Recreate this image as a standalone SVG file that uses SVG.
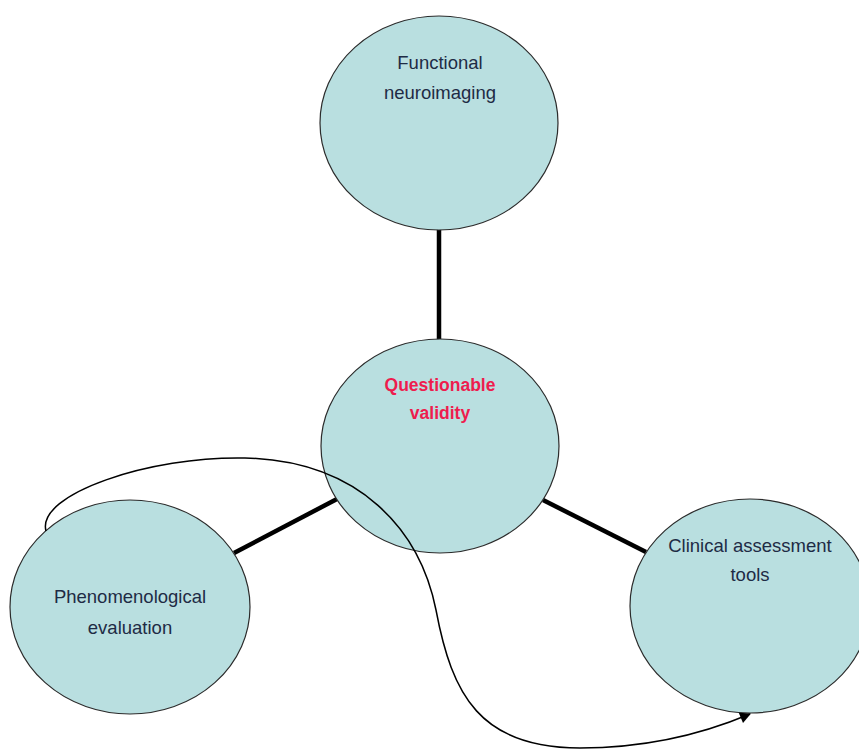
<svg xmlns="http://www.w3.org/2000/svg" width="859" height="752" viewBox="0 0 859 752">
  <style>
    .node { fill: #b9dfe0; stroke: #2b2b2b; stroke-width: 1.2; }
    .label { font-family: "Liberation Sans", Arial, sans-serif; font-size: 18.5px; fill: #1e2b45; text-anchor: middle; }
    .hot { font-family: "Liberation Sans", Arial, sans-serif; font-size: 17.5px; font-weight: bold; fill: #ee1c4e; text-anchor: middle; }
    .link { stroke: #000; stroke-width: 4.5; fill: none; }
    .flow { stroke: #000; stroke-width: 1.5; fill: none; }
  </style>
  <defs>
    <marker id="arrow" viewBox="0 0 10 10" refX="9" refY="5" markerWidth="12" markerHeight="11" orient="auto" markerUnits="userSpaceOnUse">
      <path d="M0,0 L10,5 L0,10 z" fill="#000"/>
    </marker>
  </defs>
  <rect width="859" height="752" fill="#fff"/>

  <!-- thick spokes between the hub and the three satellites -->
  <g id="connectors">
    <line class="link" x1="439" y1="228" x2="439" y2="341"/>
    <line class="link" x1="234" y1="553" x2="337" y2="499"/>
    <line class="link" x1="543" y1="500" x2="646" y2="552"/>
  </g>

  <g id="functional-neuroimaging">
    <ellipse class="node" cx="439" cy="123" rx="119" ry="107"/>
    <text class="label" x="440" y="69">Functional</text>
    <text class="label" x="440" y="99">neuroimaging</text>
  </g>

  <g id="questionable-validity">
    <ellipse class="node" cx="440" cy="446" rx="119" ry="107"/>
    <text class="hot" x="440" y="391">Questionable</text>
    <text class="hot" x="440" y="419">validity</text>
  </g>

  <g id="phenomenological-evaluation">
    <ellipse class="node" cx="130" cy="607" rx="120" ry="107"/>
    <text class="label" x="130" y="603">Phenomenological</text>
    <text class="label" x="130" y="634">evaluation</text>
  </g>

  <g id="clinical-assessment-tools">
    <ellipse class="node" cx="750" cy="606" rx="120" ry="107"/>
    <text class="label" x="750" y="552">Clinical assessment</text>
    <text class="label" x="750" y="581">tools</text>
  </g>

  <!-- looping arrow from phenomenological evaluation to clinical assessment tools -->
  <g id="flow">
    <path class="flow" marker-end="url(#arrow)" d="M46,531 C36,494 150,456 245,458 C360,461 420,530 436,610 C452,695 480,748 580,748 C650,748 705,733 750,714"/>
  </g>
</svg>
